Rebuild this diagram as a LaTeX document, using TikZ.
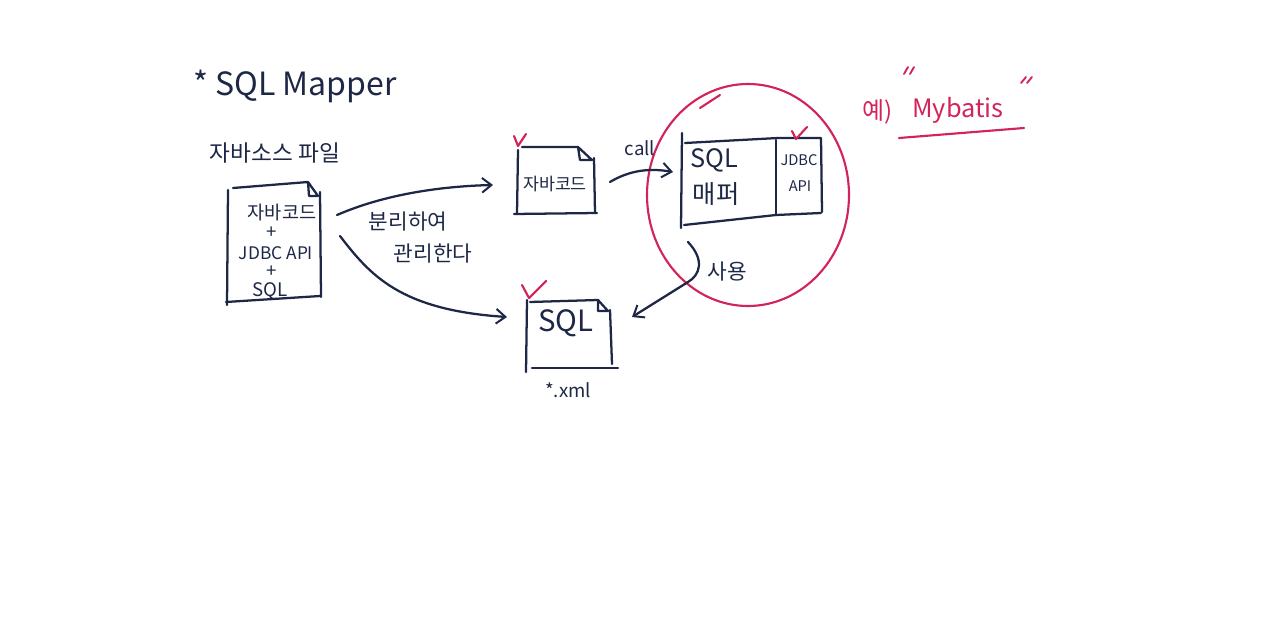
\documentclass[tikz,border=0pt]{standalone}
\usepackage{fontspec}
\setmainfont{Noto Sans CJK KR}
\usetikzlibrary{arrows.meta}
\definecolor{ink}{HTML}{1E2846}
\definecolor{pen}{HTML}{D3245A}
\tikzset{
  stroke/.style={draw=ink, line width=1.7pt, line cap=round, line join=round},
  redstroke/.style={draw=pen, line width=1.6pt, line cap=round, line join=round},
  txt/.style={text=ink, inner sep=0pt},
  redtxt/.style={text=pen, inner sep=0pt},
  flow/.style={stroke, -{Straight Barb[length=7pt,width=11pt,line width=1.5pt]}}
}
\begin{document}
\begin{tikzpicture}[x=0.75pt,y=-0.75pt]
\useasboundingbox (0,0) rectangle (1280,635);
% title
\node[txt, font=\fontsize{24}{28}\selectfont] (title) at (295,86) {* SQL Mapper};
\node[txt, font=\fontsize{17}{20}\selectfont] (srclbl) at (275,153) {자바소스 파일};
% left document
\draw[stroke] (228,190) -- (227,305);
\draw[stroke] (233,188) -- (308,182) -- (318,196) -- (309,196) -- (308,182);
\draw[stroke] (320,192) -- (321,297);
\draw[stroke] (226,302) -- (320,296);
\node[txt, font=\fontsize{14}{16}\selectfont] (l1) at (282,213) {자바코드};
\node[txt, font=\fontsize{14}{16}\selectfont] (l2) at (272,233) {+};
\node[txt, font=\fontsize{13}{16}\selectfont] (l3) at (276,253) {JDBC API};
\node[txt, font=\fontsize{14}{16}\selectfont] (l4) at (272,272) {+};
\node[txt, font=\fontsize{14}{16}\selectfont] (l5) at (270,291) {SQL};
% middle java doc
\draw[stroke] (518,150) -- (517,214);
\draw[stroke] (522,147) -- (578,147) -- (592,160) -- (580,160) -- (578,147);
\draw[stroke] (594,158) -- (595,213);
\draw[stroke] (514,214) -- (597,213);
\node[txt, font=\fontsize{13}{16}\selectfont] (javadoc) at (555,184) {자바코드};
\draw[redstroke] (514,136) -- (518,146) -- (526,134);
% SQL doc
\draw[stroke] (527,300) -- (526,372);
\draw[stroke] (530,302) -- (598,300) -- (608,311) -- (598,311) -- (598,300);
\draw[stroke] (610,310) -- (612,364);
\draw[stroke] (532,368) -- (618,368);
\node[txt, font=\fontsize{22}{26}\selectfont] (sqldoc) at (566,323) {SQL};
\node[txt, font=\fontsize{14}{16}\selectfont] (xml) at (568,390) {*.xml};
\draw[redstroke] (522,285) -- (529,298) -- (546,281);
% SQL mapper box
\draw[stroke] (682,133) -- (681,228);
\draw[stroke] (685,143) -- (778,138) -- (821,138) -- (822,212);
\draw[stroke] (684,225) -- (776,215) -- (821,213);
\draw[stroke] (776,140) -- (776,215);
\node[txt, font=\fontsize{19}{22}\selectfont] (sqlm) at (714,160) {SQL};
\node[txt, font=\fontsize{19}{22}\selectfont] (mapper) at (716,194) {매퍼};
\node[txt, font=\fontsize{11}{13}\selectfont] (jdbc) at (799,160) {JDBC};
\node[txt, font=\fontsize{11}{13}\selectfont] (api) at (800,186) {API};
\draw[redstroke] (792,131) -- (796,139) -- (807,127);
% red circle
\draw[redstroke] (748,195) ellipse [x radius=101, y radius=111];
\draw[redstroke] (700,108) -- (720,95);
% labels / arrows
\node[txt, font=\fontsize{14}{16}\selectfont] (call) at (640,148) {call};
\node[txt, font=\fontsize{16}{19}\selectfont] (bunri) at (408,222) {분리하여};
\node[txt, font=\fontsize{16}{19}\selectfont] (gwanri) at (433,254) {관리한다};
\node[txt, font=\fontsize{16}{19}\selectfont] (use) at (727,272) {사용};
\draw[flow] (337,215) .. controls (390,192) and (450,186) .. (493,185);
\draw[flow] (340,236) .. controls (370,275) and (400,310) .. (507,317);
\draw[flow] (610,182) .. controls (630,170) and (650,168) .. (673,172);
\draw[flow] (688,242) .. controls (705,260) and (700,275) .. (688,282) -- (632,317);
% Mybatis
\node[redtxt, font=\fontsize{18}{21}\selectfont] (ye) at (878,112) {예)};
\node[redtxt, font=\fontsize{19}{22}\selectfont] (mybatis) at (958,110) {Mybatis};
\draw[redstroke, line width=1.4pt] (904,74) -- (908,67) (910,74) -- (914,67);
\draw[redstroke, line width=1.4pt] (1021,83) -- (1026,77) (1027,83) -- (1032,77);
\draw[redstroke] (899,138) -- (1024,128);
\end{tikzpicture}
\end{document}
